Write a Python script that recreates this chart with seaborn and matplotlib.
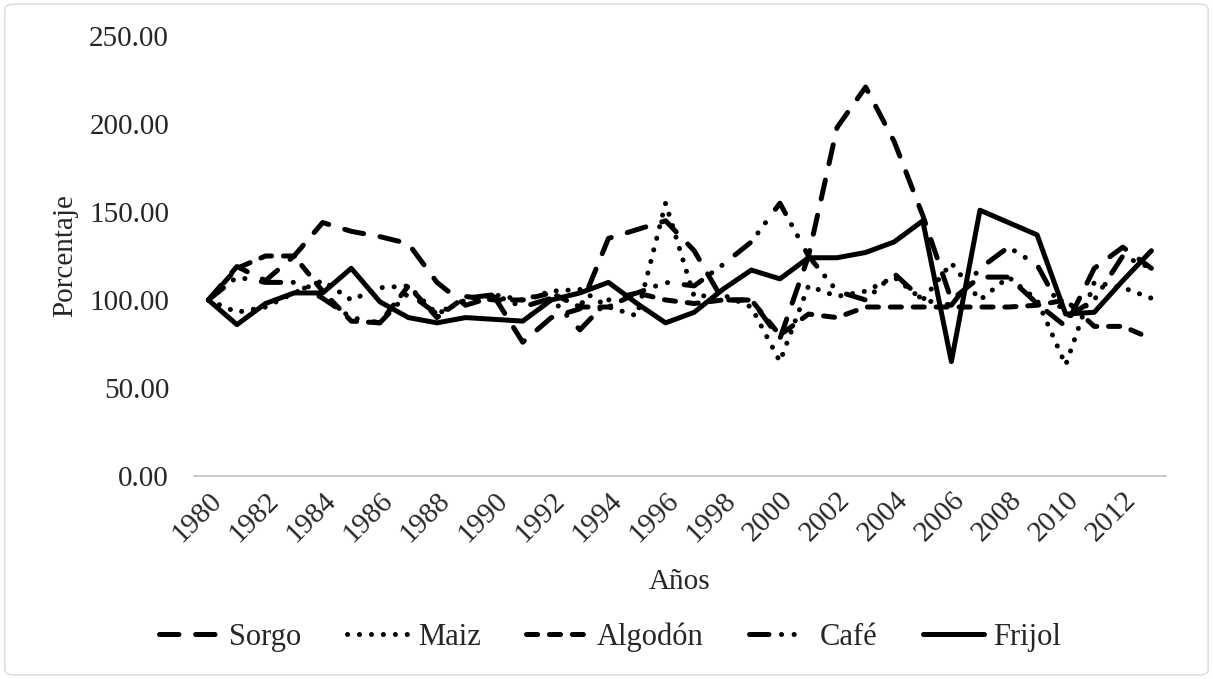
import pandas as pd
import seaborn as sns
import matplotlib.pyplot as plt
from matplotlib.patches import FancyBboxPatch

# values (index 1980 = 100)
years = list(range(1980, 2014))
sorgo = [100, 119, 111, 125, 144, 139, 136, 132, 110, 97, 102, 76, 90, 95, 135, 140, 145, 128, 100, 100, 78, 125,
         198, 221, 190, 148, 100, 113, 113, 98, 85, 118, 130, 118]
maiz = [100, 93, 96, 104, 111, 100, 107, 108, 92, 100, 103, 100, 105, 106, 96, 91, 155, 102, 103, 96, 65, 108,
        102, 105, 113, 100, 121, 100, 113, 100, 63, 110, 107, 101]
algodon = [100, 118, 125, 125, 105, 88, 87, 108, 90, 102, 100, 100, 104, 96, 96, 104, 100, 98, 100, 100, 80, 92,
           90, 96, 96, 96, 96, 96, 96, 97, 100, 85, 85, 78]
cafe = [100, 113, 110, 110, 101, 90, 87, 104, 92, 101, 103, 96, 101, 83, 100, 104, 110, 108, 120, 133, 155, 125,
        105, 100, 115, 100, 97, 118, 130, 120, 90, 100, 125, 118]
frijol = [100, 86, 98, 104, 104, 118, 99, 90, 87, 90, 89, 88, 100, 104, 110, 98, 87, 93, 106, 117, 112, 124,
          124, 127, 133, 145, 65, 151, 144, 137, 92, 93, 111, 128]
names = ["Sorgo", "Maiz", "Algodón", "Café", "Frijol"]
yticks = [0, 50, 100, 150, 200, 250]

df = pd.DataFrame({"Año": years, "Sorgo": sorgo, "Maiz": maiz, "Algodón": algodon,
                   "Café": cafe, "Frijol": frijol})
long_df = df.melt(id_vars="Año", var_name="Cultivo", value_name="Porcentaje")

sns.set_style("white")
plt.rcParams['font.family'] = ['Liberation Serif', 'DejaVu Serif']
plt.rcParams['lines.scale_dashes'] = False

# on/off lengths in points (round caps add one line width to each dash)
dash_map = {"Sorgo": (14, 12), "Maiz": (0.1, 8.5), "Algodón": (8, 8.5),
            "Café": (14, 9, 0.1, 9, 0.1, 12), "Frijol": ""}

fig = plt.figure(figsize=(12.13, 6.79), dpi=100)
ax = fig.add_axes([0.160, 0.299, 0.801, 0.648])
sns.lineplot(data=long_df, x="Año", y="Porcentaje", hue="Cultivo", style="Cultivo",
             hue_order=names, style_order=names, palette=["black"] * 5,
             dashes=dash_map, linewidth=3.6, dash_capstyle="round",
             solid_capstyle="round", ax=ax)

ax.set_xlim(1979.5, 2013.5)
ax.set_ylim(0, 250)
ax.set_yticks(yticks)
ax.set_yticklabels(["%.2f" % v for v in yticks], fontsize=21)
ax.set_xticks(years[::2])
ax.set_xticklabels([str(y) for y in years[::2]], rotation=45, ha="right",
                   rotation_mode="anchor", fontsize=21)
ax.tick_params(axis="x", length=0, pad=8)
ax.tick_params(axis="y", length=0, pad=18)
ax.set_xlabel("Años", fontsize=21, labelpad=16)
ax.set_ylabel("Porcentaje", fontsize=21, labelpad=8)
for s in ["left", "right", "top"]:
    ax.spines[s].set_visible(False)
ax.spines["bottom"].set_color("#bfbfbf")
ax.spines["bottom"].set_linewidth(1.2)

handles, labels = ax.get_legend_handles_labels()
ax.legend(handles, labels, loc="center", bbox_to_anchor=(0.503, 0.062), bbox_transform=fig.transFigure,
          ncol=5, frameon=False, fontsize=22, handlelength=2.0, handletextpad=0.3, columnspacing=1.5)

fig.patches.append(FancyBboxPatch((0.004, 0.006), 0.992, 0.988, boxstyle="round,pad=0,rounding_size=0.008",
                                  transform=fig.transFigure, fill=False, edgecolor="#d9d9d9", linewidth=1))
fig.savefig("out.png", dpi=100)
